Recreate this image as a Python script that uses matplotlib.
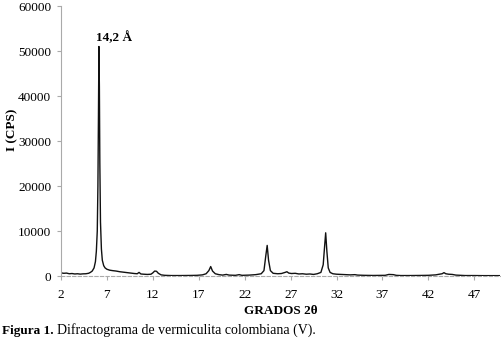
# difractograma de vermiculita - recreated with matplotlib
import matplotlib
matplotlib.use("Agg")
import matplotlib.pyplot as plt

plt.rcParams['font.family'] = ['Liberation Serif', 'DejaVu Serif']

# 2-theta (degrees) and intensity (CPS)
two_theta = [2.0, 2.3, 2.6, 2.9, 3.2, 3.5, 3.8, 4.1, 4.4, 4.7, 5.0, 5.2, 5.4,
             5.6, 5.75, 5.85, 5.95, 6.02, 6.08, 6.13, 6.18, 6.23, 6.3, 6.4,
             6.5, 6.65, 6.8, 7.0, 7.3, 7.6, 8.0, 8.4, 8.8, 9.2, 9.6, 10.0,
             10.3, 10.5, 10.7, 11.0, 11.4, 11.8, 12.0, 12.2, 12.4, 12.6, 12.9,
             13.3, 14.0, 15.0, 16.0, 16.8, 17.4, 17.8, 18.1, 18.3, 18.5, 18.8,
             19.2, 19.6, 20.0, 20.3, 21.0, 21.4, 21.7, 22.5, 23.2, 23.8, 24.1,
             24.3, 24.45, 24.6, 24.8, 25.1, 25.6, 26.0, 26.4, 26.6, 26.8, 27.1,
             27.5, 27.9, 28.3, 28.7, 29.1, 29.5, 29.9, 30.3, 30.55, 30.7, 30.82,
             30.95, 31.1, 31.3, 31.6, 32.0, 32.5, 33.0, 33.5, 34.0, 34.3, 35.0,
             36.0, 37.3, 37.7, 38.2, 38.5, 39.0, 40.0, 41.0, 42.0, 42.8, 43.2,
             43.5, 43.7, 43.9, 44.2, 44.6, 45.0, 45.5, 46.0, 47.0, 48.0, 49.0,
             50.0]
cps = [700, 600, 650, 500, 550, 450, 500, 420, 480, 500, 600, 800, 1100,
       1800, 3200, 5500, 10000, 20000, 36000, 51000, 42000, 25000, 12000, 6000,
       3500, 2300, 1800, 1500, 1300, 1200, 1100, 950, 850, 750, 650, 550,
       500, 800, 450, 400, 350, 400, 700, 1100, 1050, 600, 250,
       150, 100, 100, 120, 150, 250, 500, 1200, 2100, 1100, 500,
       300, 200, 350, 200, 150, 300, 150, 200, 300, 500, 1200,
       4500, 6800, 3500, 1200, 600, 500, 550, 800, 950, 650, 550,
       600, 450, 500, 400, 450, 350, 500, 800, 2500, 6500, 9600,
       5500, 1800, 800, 500, 400, 350, 300, 250, 300, 200, 150,
       120, 150, 350, 300, 150, 100, 100, 120, 150, 250, 400,
       500, 750, 500, 400, 350, 200, 150, 100, 100, 80, 80,
       80]

xticks = [2, 7, 12, 17, 22, 27, 32, 37, 42, 47]
yticks = [0, 10000, 20000, 30000, 40000, 50000, 60000]

fig = plt.figure(figsize=(5.02, 3.41), dpi=100)
ax = fig.add_axes([0.1215, 0.1906, 0.8745, 0.7918])

ax.plot(two_theta, cps, color='#111111', lw=1.0)

ax.set_xlim(2, 49.8)
ax.set_ylim(0, 60000)
ax.set_xticks(xticks)
ax.set_yticks(yticks)
ax.tick_params(labelsize=9.5, colors='black', length=3, color='#aaaaaa')
ax.tick_params(axis='x', pad=6)
ax.tick_params(axis='y', pad=4)

for s in ['top', 'right']:
    ax.spines[s].set_visible(False)
ax.spines['left'].set_color('#aaaaaa')
ax.spines['bottom'].set_color('#aaaaaa')
ax.spines['bottom'].set_linestyle((0, (3, 2)))

ax.text(5.85, 51500, '14,2 Å', fontsize=9.5, fontweight='bold', ha='left', va='bottom')

ax.set_xlabel('GRADOS 2θ', fontsize=9.5, fontweight='bold', labelpad=3)
ax.set_ylabel('I (CPS)', fontsize=9.5, fontweight='bold')
ax.yaxis.set_label_coords(-0.097, 0.54)

fig.text(0.004, 0.012, 'Figura 1.', fontsize=9.5, fontweight='bold', ha='left', va='bottom')
fig.text(0.113, 0.012, 'Difractograma de vermiculita colombiana (V).', fontsize=10,
         ha='left', va='bottom')

fig.savefig('out.png', dpi=100)
